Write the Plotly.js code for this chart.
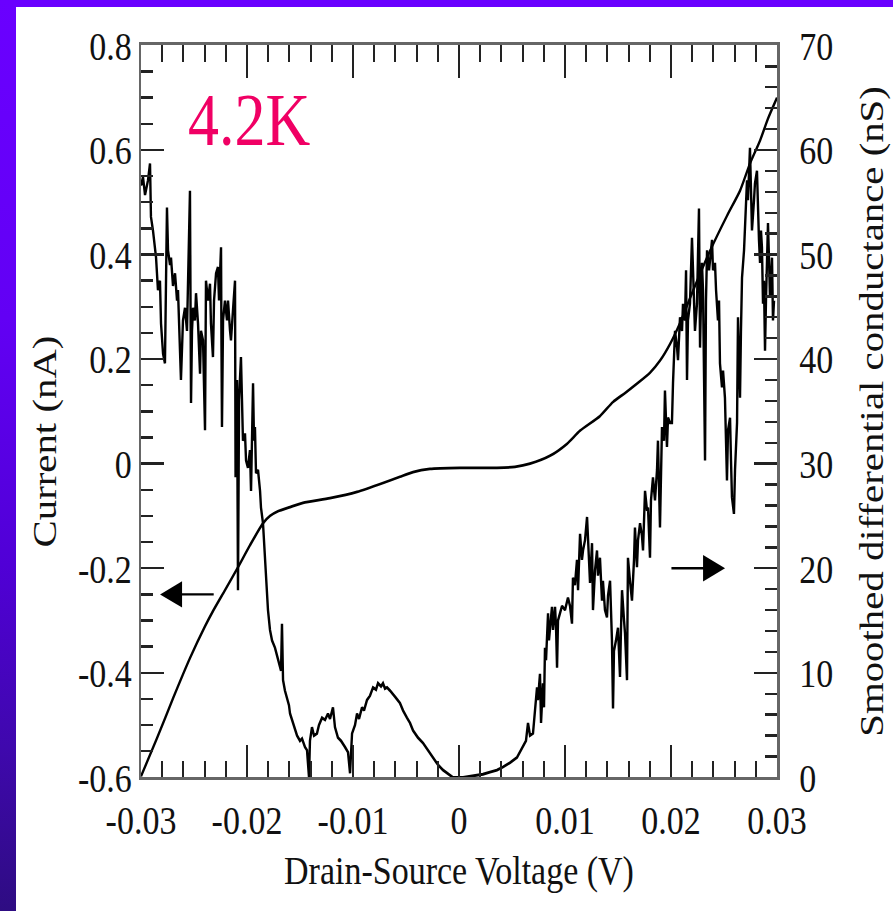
<!DOCTYPE html>
<html>
<head>
<meta charset="utf-8">
<script src="https://cdn.plot.ly/plotly-3.0.1.min.js"></script>
<style>
  html, body { margin:0; padding:0; }
  body {
    width:893px; height:911px; overflow:hidden; position:relative;
    background: linear-gradient(to bottom, #6a00ff 0%, #6200f4 35%, #5000d6 62%, #3f08ad 82%, #2e0c82 100%);
  }
  #panel { position:absolute; left:16px; top:7px; width:877px; height:904px; background:#ffffff; overflow:hidden; }
  #chart { width:877px; height:753px; transform: scaleY(1.2); transform-origin: 0 0; }
</style>
</head>
<body>
<div id="panel"><div id="chart"></div></div>
<script>
// ---- Smoothed differential conductance (nS) vs drain-source voltage (V) ----
const condVoltage = [
-0.03000,-0.02981,-0.02962,-0.02934,-0.02915,-0.02906,-0.02887,-0.02858,-0.02840,-0.02821,
-0.02811,-0.02792,-0.02774,-0.02764,-0.02755,-0.02745,-0.02726,-0.02717,-0.02698,-0.02679,
-0.02660,-0.02651,-0.02632,-0.02623,-0.02604,-0.02585,-0.02566,-0.02557,-0.02538,-0.02528,
-0.02519,-0.02509,-0.02491,-0.02481,-0.02462,-0.02443,-0.02434,-0.02415,-0.02396,-0.02387,
-0.02368,-0.02349,-0.02340,-0.02321,-0.02311,-0.02292,-0.02274,-0.02264,-0.02245,-0.02241,
-0.02236,-0.02226,-0.02208,-0.02189,-0.02179,-0.02160,-0.02151,-0.02132,-0.02113,-0.02108,
-0.02094,-0.02085,-0.02075,-0.02057,-0.02047,-0.02038,-0.02019,-0.02009,-0.01991,-0.01972,
-0.01962,-0.01943,-0.01934,-0.01925,-0.01915,-0.01896,-0.01877,-0.01868,-0.01849,-0.01840,
-0.01821,-0.01811,-0.01802,-0.01783,-0.01764,-0.01736,-0.01708,-0.01679,-0.01670,-0.01660,
-0.01642,-0.01623,-0.01604,-0.01594,-0.01575,-0.01547,-0.01528,-0.01500,-0.01481,-0.01453,
-0.01434,-0.01415,-0.01406,-0.01387,-0.01368,-0.01340,-0.01321,-0.01292,-0.01264,-0.01236,
-0.01217,-0.01189,-0.01170,-0.01142,-0.01113,-0.01075,-0.01047,-0.01028,-0.01009,-0.00981,
-0.00962,-0.00943,-0.00915,-0.00896,-0.00868,-0.00840,-0.00811,-0.00783,-0.00764,-0.00736,
-0.00717,-0.00698,-0.00679,-0.00651,-0.00623,-0.00594,-0.00557,-0.00528,-0.00491,-0.00462,
-0.00434,-0.00387,-0.00340,-0.00292,-0.00245,-0.00198,-0.00151,-0.00104,-0.00057,0.00038,
0.00104,0.00170,0.00226,0.00292,0.00358,0.00415,0.00481,0.00547,0.00575,0.00604,
0.00632,0.00651,0.00670,0.00698,0.00717,0.00736,0.00745,0.00764,0.00774,0.00792,
0.00802,0.00811,0.00821,0.00840,0.00849,0.00858,0.00877,0.00887,0.00906,0.00915,
0.00925,0.00934,0.00953,0.00972,0.01000,0.01019,0.01028,0.01047,0.01066,0.01075,
0.01094,0.01113,0.01123,0.01142,0.01160,0.01170,0.01189,0.01208,0.01217,0.01236,
0.01255,0.01264,0.01283,0.01302,0.01311,0.01330,0.01349,0.01358,0.01377,0.01396,
0.01406,0.01425,0.01434,0.01443,0.01453,0.01462,0.01481,0.01500,0.01509,0.01519,
0.01528,0.01538,0.01557,0.01566,0.01585,0.01594,0.01613,0.01632,0.01651,0.01660,
0.01679,0.01689,0.01708,0.01726,0.01736,0.01755,0.01774,0.01783,0.01802,0.01811,
0.01830,0.01849,0.01868,0.01877,0.01896,0.01906,0.01915,0.01934,0.01943,0.01962,
0.01972,0.01991,0.02009,0.02019,0.02038,0.02057,0.02066,0.02085,0.02104,0.02113,
0.02132,0.02142,0.02151,0.02160,0.02179,0.02198,0.02208,0.02217,0.02226,0.02245,
0.02264,0.02274,0.02283,0.02292,0.02302,0.02321,0.02330,0.02340,0.02359,0.02368,
0.02387,0.02396,0.02415,0.02425,0.02443,0.02453,0.02462,0.02481,0.02491,0.02509,
0.02528,0.02538,0.02557,0.02566,0.02575,0.02594,0.02604,0.02623,0.02632,0.02642,
0.02651,0.02660,0.02670,0.02689,0.02698,0.02717,0.02726,0.02745,0.02755,0.02764,
0.02783,0.02792,0.02811,0.02821,0.02830,0.02840,0.02849,0.02858,0.02868,0.02877,
0.02887,0.02896,0.02906,0.02915,0.02925,0.02934,0.02943,0.02953,0.02962,0.02972
];
const conductance = [
56.6,57.4,55.7,57.1,58.7,53.6,52.3,49.7,46.6,47.5,
43.4,40.5,39.6,45.6,54.5,50.4,49.0,49.7,47.0,48.2,
45.6,46.6,41.8,38.0,43.7,44.9,42.7,46.6,56.1,35.8,
42.7,44.9,43.7,46.3,43.4,38.6,42.7,41.8,33.2,47.5,
45.6,47.2,43.4,40.2,45.6,48.2,48.8,45.6,50.7,41.8,
33.5,43.7,45.6,43.7,45.6,42.7,41.8,44.7,47.5,28.7,
38.0,17.9,36.1,40.2,36.1,32.2,32.9,30.3,29.6,31.3,
27.4,37.7,32.2,33.5,29.1,29.4,27.4,25.8,24.3,22.7,
19.5,17.2,16.0,14.1,13.1,12.4,11.2,10.2,14.7,9.3,
8.3,7.7,6.9,6.1,5.5,4.8,4.0,3.5,3.7,2.9,
2.6,0.0,3.5,4.8,4.0,4.2,5.0,5.7,5.5,6.1,
5.6,6.7,4.8,3.8,3.5,2.9,2.4,0.4,4.2,5.0,
6.1,5.6,6.7,6.4,7.4,7.8,8.6,8.4,9.0,8.7,
9.0,8.5,8.6,8.3,8.0,7.6,7.1,6.4,5.7,5.2,
4.5,3.8,3.3,2.6,1.9,1.2,0.7,0.3,0.0,0.0,
0.1,0.2,0.3,0.5,0.7,1.0,1.4,1.9,2.4,2.9,
3.5,5.2,4.0,4.2,6.4,8.6,7.4,9.9,5.2,9.0,
6.7,12.4,11.2,15.7,13.1,14.3,16.3,14.1,16.3,14.5,
10.5,15.0,15.7,16.4,16.0,16.9,17.2,16.4,14.7,19.1,
18.4,20.8,17.9,23.3,20.8,21.7,22.7,24.9,22.7,18.6,
22.4,16.0,19.8,21.7,19.3,21.0,16.9,18.8,16.0,15.3,
17.4,18.8,16.0,13.1,6.6,12.1,13.1,14.3,12.1,9.6,
14.1,17.9,15.0,13.8,9.3,21.0,18.8,16.9,20.8,23.9,
20.1,22.7,24.3,23.1,21.7,27.4,25.5,25.8,21.0,26.5,
28.7,26.5,29.4,32.2,23.9,30.3,33.5,32.2,37.0,31.6,
34.4,33.9,33.9,37.7,42.7,41.1,39.9,44.0,42.7,45.3,
43.7,48.5,38.0,43.7,45.3,51.6,49.2,45.6,42.7,45.3,
54.4,41.1,45.6,49.2,46.6,30.3,45.6,50.4,48.5,49.7,
51.4,48.5,49.2,46.6,43.7,45.6,39.6,37.3,38.9,36.3,
28.4,33.2,34.4,30.3,26.8,25.2,29.4,33.9,44.0,39.9,
36.3,42.7,47.8,50.4,53.0,57.1,55.2,60.2,56.1,52.3,
55.2,56.8,58.0,53.9,51.4,49.2,52.3,50.7,45.3,47.5,
40.8,45.6,49.7,53.0,49.4,45.9,47.5,49.7,43.7,45.6
];

// ---- Current (nA) vs drain-source voltage (V) ----
const ivVoltage = [
-0.03000,-0.02849,-0.02698,-0.02538,-0.02396,-0.02321,-0.02208,-0.02085,-0.01972,-0.01849,
-0.01783,-0.01708,-0.01594,-0.01472,-0.01217,-0.00962,-0.00717,-0.00557,-0.00434,-0.00274,
0.00009,0.00358,0.00528,0.00670,0.00858,0.01019,0.01142,0.01330,0.01453,0.01566,
0.01679,0.01802,0.01896,0.01991,0.02085,0.02208,0.02368,0.02528,0.02651,0.02745,
0.02840,0.02915,0.03000
];
const ivCurrent = [
-0.598,-0.525,-0.449,-0.372,-0.311,-0.282,-0.242,-0.198,-0.156,-0.114,
-0.100,-0.091,-0.083,-0.075,-0.066,-0.054,-0.037,-0.025,-0.016,-0.010,
-0.008,-0.008,-0.006,0.000,0.015,0.038,0.063,0.091,0.118,0.135,
0.153,0.174,0.197,0.229,0.269,0.331,0.407,0.474,0.522,0.574,
0.618,0.660,0.700
];

// ---- tick labels ----
const xTickVals = [-0.03,-0.02,-0.01,0,0.01,0.02,0.03];
const xTickText = ["-0.03","-0.02","-0.01","0","0.01","0.02","0.03"];
const yTickVals = [-0.6,-0.4,-0.2,0,0.2,0.4,0.6,0.8];
const yTickText = ["-0.6","-0.4","-0.2","0","0.2","0.4","0.6","0.8"];
const y2TickVals = [0,10,20,30,40,50,60,70];
const y2TickText = ["0","10","20","30","40","50","60","70"];

const serif = "Liberation Serif, Times New Roman, serif";
const ink = "#111111";

const traces = [
  { x: condVoltage, y: conductance, type: "scatter", mode: "lines", yaxis: "y2",
    line: { color: "#000000", width: 2.4 }, hoverinfo: "skip", showlegend: false },
  { x: ivVoltage, y: ivCurrent, type: "scatter", mode: "lines", yaxis: "y",
    line: { color: "#000000", width: 2.3, shape: "spline", smoothing: 0.6 }, hoverinfo: "skip", showlegend: false }
];

const layout = {
  width: 877, height: 753,
  margin: { l: 125, r: 116, t: 32, b: 111 },
  paper_bgcolor: "#ffffff", plot_bgcolor: "#ffffff",
  font: { family: serif, color: ink, size: 33 },
  showlegend: false,
  xaxis: {
    range: [-0.03, 0.03], tickmode: "array", tickvals: xTickVals, ticktext: xTickText,
    ticks: "inside", ticklen: 27, tickwidth: 2, tickcolor: "#222",
    showline: true, linecolor: "#666", linewidth: 2.5, mirror: "ticks",
    showgrid: false, zeroline: false, ticklabelstandoff: 4,
    tickfont: { family: serif, size: 34, color: ink },
    minor: { tickmode: "linear", tick0: 0, dtick: 0.002, ticks: "inside", ticklen: 14, tickwidth: 2, tickcolor: "#222", showgrid: false },
    title: { text: "Drain-Source Voltage (V)", font: { family: serif, size: 34, color: ink }, standoff: 12 }
  },
  yaxis: {
    range: [-0.6, 0.8], tickmode: "array", tickvals: yTickVals, ticktext: yTickText,
    ticks: "inside", ticklen: 23, tickwidth: 2, tickcolor: "#222",
    showline: true, linecolor: "#666", linewidth: 2.5, mirror: false,
    showgrid: false, zeroline: false, ticklabelstandoff: 0,
    tickfont: { family: serif, size: 34, color: ink },
    minor: { tickmode: "linear", tick0: 0, dtick: 0.05, ticks: "inside", ticklen: 12, tickwidth: 2, tickcolor: "#222", showgrid: false },
    title: { text: "" }
  },
  yaxis2: {
    overlaying: "y", side: "right",
    range: [0, 70], tickmode: "array", tickvals: y2TickVals, ticktext: y2TickText,
    ticks: "inside", ticklen: 23, tickwidth: 2, tickcolor: "#222",
    showline: true, linecolor: "#666", linewidth: 2.5,
    showgrid: false, zeroline: false, ticklabelstandoff: 13,
    tickfont: { family: serif, size: 34, color: ink },
    minor: { tickmode: "linear", tick0: 0, dtick: 2, ticks: "inside", ticklen: 12, tickwidth: 2, tickcolor: "#222", showgrid: false },
    title: { text: "Smoothed differential conductance (nS)", font: { family: serif, size: 34, color: ink }, standoff: 27 }
  },
  annotations: [
    { xref: "paper", yref: "paper", x: -0.151, y: 0.46, xanchor: "center", yanchor: "middle", textangle: -90,
      text: "Current (nA)", showarrow: false, font: { family: serif, size: 34, color: ink } },
    { xref: "paper", yref: "paper", x: 0.17, y: 0.898, xanchor: "center", yanchor: "middle",
      text: "4.2K", showarrow: false, font: { family: serif, size: 62, color: "#f00064" } },
    { xref: "x", yref: "y", x: -0.0282, y: -0.25, axref: "x", ayref: "y", ax: -0.0230, ay: -0.25,
      text: "", showarrow: true, arrowhead: 2, arrowsize: 2.2, arrowwidth: 2, arrowcolor: "#000" },
    { xref: "x", yref: "y2", x: 0.0251, y: 20, axref: "x", ayref: "y2", ax: 0.0199, ay: 20,
      text: "", showarrow: true, arrowhead: 2, arrowsize: 2.2, arrowwidth: 2, arrowcolor: "#000" }
  ]
};

Plotly.newPlot("chart", traces, layout, { staticPlot: true, displayModeBar: false });
</script>
</body>
</html>
